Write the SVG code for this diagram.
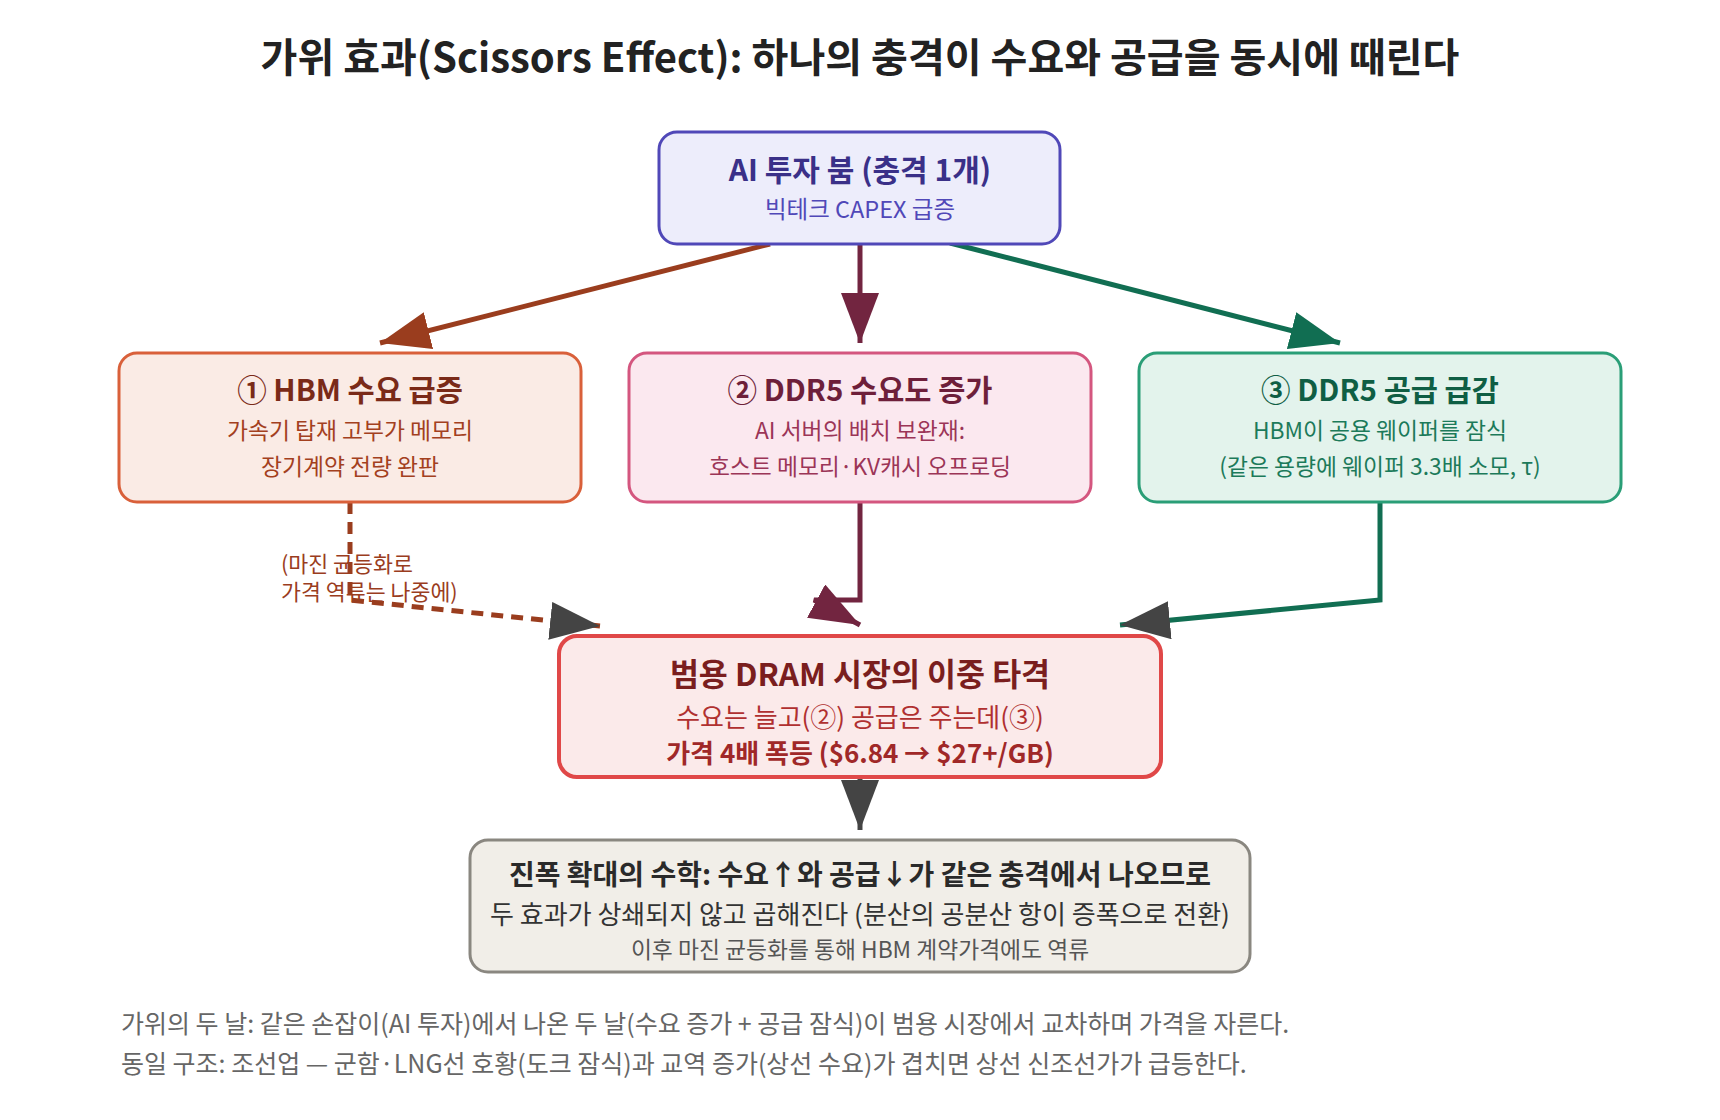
<svg xmlns="http://www.w3.org/2000/svg" width="1720" height="1120" viewBox="0 0 1720 1120">
<style>
text{font-family:"Noto Sans CJK KR","Noto Sans",sans-serif;text-anchor:middle;dominant-baseline:central}
.t{font-weight:700}
.ttl{font-size:40px;font-weight:700;fill:#222}
.nt{font-size:29.5px;font-weight:700}
.nl{font-size:22.8px}
.ft{font-size:25px;fill:#666;text-anchor:start}
.e{fill:none;stroke-width:5}
</style>
<defs>
<marker id="aBr" markerUnits="userSpaceOnUse" markerWidth="50" markerHeight="38" refX="50" refY="19" orient="auto"><path d="M0,0L50,19L0,38z" fill="#9a3d1e"/></marker>
<marker id="aMa" markerUnits="userSpaceOnUse" markerWidth="50" markerHeight="38" refX="50" refY="19" orient="auto"><path d="M0,0L50,19L0,38z" fill="#722540"/></marker>
<marker id="aGr" markerUnits="userSpaceOnUse" markerWidth="50" markerHeight="38" refX="50" refY="19" orient="auto"><path d="M0,0L50,19L0,38z" fill="#116e52"/></marker>
<marker id="aDk" markerUnits="userSpaceOnUse" markerWidth="50" markerHeight="38" refX="50" refY="19" orient="auto"><path d="M0,0L50,19L0,38z" fill="#444"/></marker>
</defs>
<rect width="1720" height="1120" fill="#fff"/>
<text class="ttl" x="860" y="55">가위 효과(Scissors Effect): 하나의 충격이 수요와 공급을 동시에 때린다</text>

<g id="connectors">
<path class="e" d="M770,244L380,343" stroke="#9a3d1e" marker-end="url(#aBr)"/>
<path class="e" d="M860,244L860,343" stroke="#722540" marker-end="url(#aMa)"/>
<path class="e" d="M950,243L1340,343" stroke="#116e52" marker-end="url(#aGr)"/>
<path class="e" d="M350,502L350,600L600,626" stroke="#9a3d1e" stroke-width="4" stroke-dasharray="12 8" marker-end="url(#aDk)"/>
<path class="e" d="M860,502L860,600L814,600L860,625" stroke="#722540" marker-end="url(#aMa)"/>
<path class="e" d="M1380,502L1380,600L1120,625" stroke="#116e52" marker-end="url(#aDk)"/>
<path class="e" d="M860,777L860,830" stroke="#444" marker-end="url(#aDk)"/>
<text x="281" y="562" font-size="21.7" fill="#9a3d1e" style="text-anchor:start">(마진 균등화로</text>
<text x="281" y="590" font-size="21.7" fill="#9a3d1e" style="text-anchor:start">가격 역류는 나중에)</text>
</g>

<g id="shock">
<rect x="659" y="132" width="401" height="112" rx="18" fill="#ededfb" stroke="#5048b8" stroke-width="3"/>
<text class="nt" x="860" y="168" font-size="30" fill="#3a3088" style="font-size:30px">AI 투자 붐 (충격 1개)</text>
<text x="860" y="208" font-size="23.5" fill="#5048b8">빅테크 CAPEX 급증</text>
</g>

<g id="hbm">
<rect x="119" y="353" width="462" height="149" rx="18" fill="#faebe5" stroke="#d9603a" stroke-width="3"/>
<text class="nt" x="350" y="388" fill="#7a2a18">① HBM 수요 급증</text>
<text class="nl" x="350" y="429" fill="#a3401e">가속기 탑재 고부가 메모리</text>
<text class="nl" x="350" y="465" fill="#a3401e">장기계약 전량 완판</text>
</g>

<g id="ddr5d">
<rect x="629" y="353" width="462" height="149" rx="18" fill="#fbe8ef" stroke="#d4567f" stroke-width="3"/>
<text class="nt" x="860" y="388" fill="#6e1f3a">② DDR5 수요도 증가</text>
<text class="nl" x="860" y="429" fill="#9b3557">AI 서버의 배치 보완재:</text>
<text class="nl" x="860" y="465" fill="#9b3557">호스트 메모리·KV캐시 오프로딩</text>
</g>

<g id="ddr5s">
<rect x="1139" y="353" width="482" height="149" rx="18" fill="#e3f3ec" stroke="#2a9e77" stroke-width="3"/>
<text class="nt" x="1380" y="388" fill="#0f5e44">③ DDR5 공급 급감</text>
<text class="nl" x="1380" y="429" fill="#1c7a5a">HBM이 공용 웨이퍼를 잠식</text>
<text class="nl" x="1380" y="465" fill="#1c7a5a">(같은 용량에 웨이퍼 3.3배 소모, τ)</text>
</g>

<g id="dram">
<rect x="559" y="636" width="602" height="141" rx="18" fill="#fbeaea" stroke="#e04848" stroke-width="4"/>
<text class="t" x="860" y="672" font-size="31.5" fill="#7a1e1e">범용 DRAM 시장의 이중 타격</text>
<text x="860" y="715" font-size="26" fill="#b03030">수요는 늘고(②) 공급은 주는데(③)</text>
<text class="t" x="860" y="751" font-size="26" fill="#a02828">가격 4배 폭등 ($6.84 → $27+/GB)</text>
</g>

<g id="math">
<rect x="470" y="840" width="780" height="132" rx="18" fill="#f1eee8" stroke="#8a8780" stroke-width="3"/>
<text class="t" x="860" y="873" font-size="28" fill="#2a2a2a">진폭 확대의 수학: 수요↑와 공급↓가 같은 충격에서 나오므로</text>
<text x="860" y="912" font-size="26" fill="#333">두 효과가 상쇄되지 않고 곱해진다 (분산의 공분산 항이 증폭으로 전환)</text>
<text x="860" y="948" font-size="22.8" fill="#555">이후 마진 균등화를 통해 HBM 계약가격에도 역류</text>
</g>

<text class="ft" x="121" y="1022">가위의 두 날: 같은 손잡이(AI 투자)에서 나온 두 날(수요 증가 + 공급 잠식)이 범용 시장에서 교차하며 가격을 자른다.</text>
<text class="ft" x="121" y="1062">동일 구조: 조선업 — 군함·LNG선 호황(도크 잠식)과 교역 증가(상선 수요)가 겹치면 상선 신조선가가 급등한다.</text>
</svg>
